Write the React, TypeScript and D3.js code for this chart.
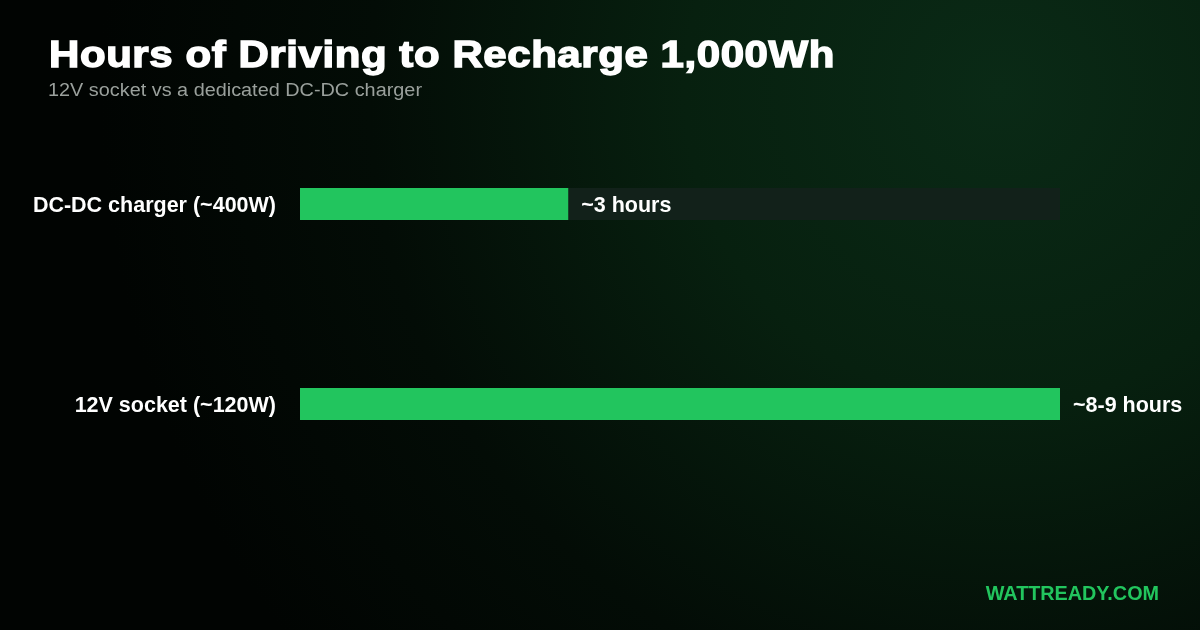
import { useEffect } from "react";
import * as d3 from "d3";

const categories = ["DC-DC charger (~400W)", "12V socket (~120W)"];
const hours = [3, 8.5];
const valueLabels = ["~3 hours", "~8-9 hours"];
const maxHours = 8.5;

const width = 1200;
const height = 630;
const FONT = "'Liberation Sans', Arial, sans-serif";

export default function App() {
  useEffect(() => {
    document.body.style.margin = "0";
    document.body.style.background = "#000";
  }, []);

  const x = d3.scaleLinear([0, maxHours], [300, 1060]);
  const y = d3.scaleBand(categories, [188, 420]).paddingInner(0.84).paddingOuter(0);

  return (
    <svg
      width={width}
      height={height}
      viewBox={`0 0 ${width} ${height}`}
      style={{ position: "fixed", top: 0, left: 0, display: "block" }}
    >
      <defs>
        <radialGradient id="glow" cx="1000" cy="90" r="900" gradientUnits="userSpaceOnUse">
          <stop offset="0" stopColor="#0a2a16" />
          <stop offset="0.35" stopColor="#07200f" />
          <stop offset="0.7" stopColor="#030c06" />
          <stop offset="1" stopColor="#010402" />
        </radialGradient>
      </defs>
      <rect width={width} height={height} fill="url(#glow)" />

      <text
        x={49}
        y={67}
        fill="#fff"
        stroke="#fff"
        strokeWidth={1.4}
        fontFamily={FONT}
        fontWeight={700}
        fontSize={37}
        textLength={786}
        lengthAdjust="spacingAndGlyphs"
        letterSpacing={0.5}
      >
        Hours of Driving to Recharge 1,000Wh
      </text>
      <text
        x={48}
        y={96}
        fill="#9aa09c"
        fontFamily={FONT}
        fontSize={18}
        textLength={374}
        lengthAdjust="spacingAndGlyphs"
      >
        12V socket vs a dedicated DC-DC charger
      </text>

      {categories.map((c, i) => {
        const by = y(c) ?? 0;
        const bh = y.bandwidth();
        return (
          <g key={c}>
            <rect x={x(0)} y={by} width={x(maxHours) - x(0)} height={bh} fill="#12211a" />
            <rect x={x(0)} y={by} width={x(hours[i]) - x(0)} height={bh} fill="#22c55e" />
            <text
              x={276}
              y={by + bh / 2}
              dy="0.36em"
              textAnchor="end"
              fill="#fff"
              fontFamily={FONT}
              fontWeight={700}
              fontSize={21.5}
            >
              {c}
            </text>
            <text
              x={x(hours[i]) + 13}
              y={by + bh / 2}
              dy="0.36em"
              fill="#fff"
              fontFamily={FONT}
              fontWeight={700}
              fontSize={21.5}
            >
              {valueLabels[i]}
            </text>
          </g>
        );
      })}

      <text
        x={1159}
        y={600}
        textAnchor="end"
        fill="#22c55e"
        fontFamily={FONT}
        fontWeight={700}
        fontSize={19.8}
      >
        WATTREADY.COM
      </text>
    </svg>
  );
}
